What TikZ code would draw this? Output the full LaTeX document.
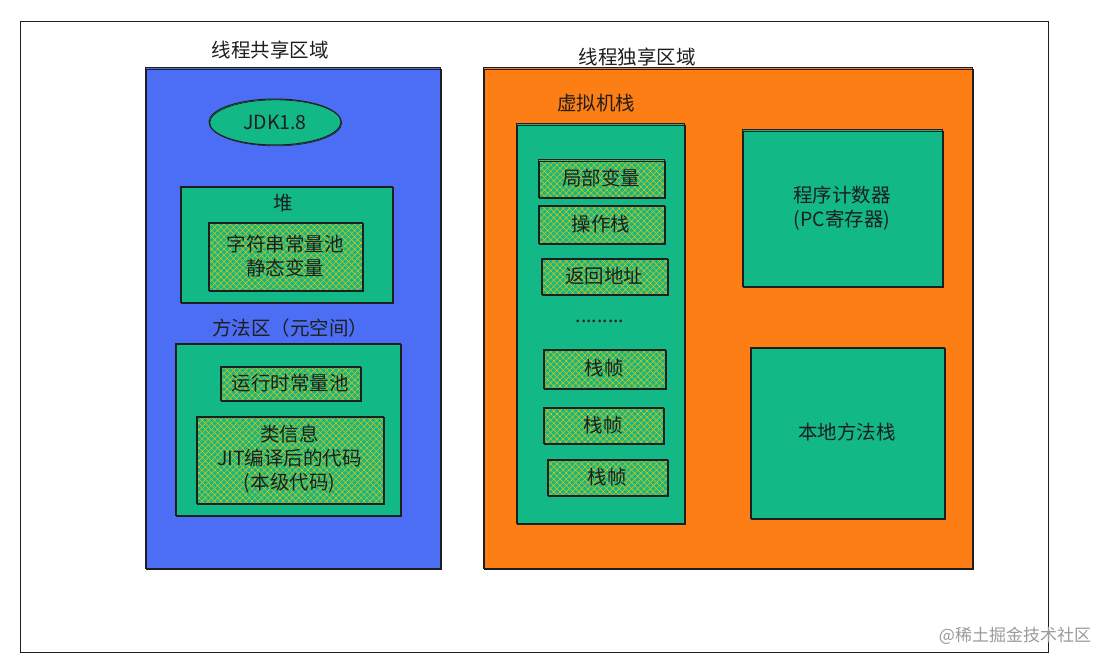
\documentclass[tikz,border=0pt]{standalone}
\usepackage{fontspec}
\setmainfont{Noto Sans CJK SC}
\usetikzlibrary{patterns.meta,shapes.geometric}
\definecolor{exblue}{HTML}{4C6EF5}
\definecolor{exorange}{HTML}{FD7E14}
\definecolor{exgreen}{HTML}{12B886}
\definecolor{exyellow}{HTML}{F5C000}
\definecolor{ink}{HTML}{1E1E1E}
\definecolor{wm}{HTML}{9A9A9A}
\begin{document}
\begin{tikzpicture}[x=1pt,y=-1pt,
  every node/.style={font=\fontsize{19.5}{24}\selectfont, text=ink, align=center, inner sep=0pt},
  sk/.style={draw=ink, line width=1pt, postaction={draw=ink, line width=0.6pt, transform canvas={shift={(0.8pt,-0.9pt)}}}},
  gbox/.style={sk, rectangle, fill=exgreen},
  hbox/.style={rectangle,
    preaction={fill=exgreen},
    preaction={pattern={Lines[angle=45,distance=4.4pt,line width=0.5pt]}, pattern color=exyellow},
    preaction={pattern={Lines[angle=-45,distance=4.4pt,line width=0.5pt]}, pattern color=exyellow},
    sk},
  lbl/.style={font=\fontsize{19.5}{24}\selectfont},
]
\useasboundingbox (0,0) rectangle (1114,666);
\fill[white] (0,0) rectangle (1114,666);

% outer frame
\node[rectangle, draw=ink, line width=1pt, fill=white, minimum width=1028, minimum height=630] (frame) at (534,337) {};

% shared region
\node[lbl] (sharedT) at (270,50) {线程共享区域};
\node[sk, rectangle, fill=exblue, minimum width=295, minimum height=500] (shared) at (292.5,318) {};
\node[sk, ellipse, fill=exgreen, minimum width=132, minimum height=46] (jdk) at (275,122) {JDK1.8};

\node[gbox, minimum width=212, minimum height=116] (heap) at (286,244) {};
\node[lbl] (heapT) at (283,203) {堆};
\node[hbox, minimum width=154, minimum height=68] (heapIn) at (285,256) {字符串常量池\\静态变量};

\node[lbl] (methT) at (290,328) {方法区（元空间）};
\node[gbox, minimum width=225, minimum height=172] (meth) at (287.5,429) {};
\node[hbox, minimum width=140, minimum height=34] (rtpool) at (290,383) {运行时常量池};
\node[hbox, minimum width=187, minimum height=87] (cls) at (289.5,459.5) {类信息\\JIT编译后的代码\\(本级代码)};

% private region
\node[lbl] (privT) at (637,57) {线程独享区域};
\node[sk, rectangle, fill=exorange, minimum width=489, minimum height=500] (priv) at (727.5,318) {};

\node[lbl] (vmT) at (596,103) {虚拟机栈};
\node[gbox, minimum width=168, minimum height=399] (vm) at (600,323.5) {};
\node[hbox, minimum width=126, minimum height=37] (lv) at (601,178.5) {局部变量};
\node[hbox, minimum width=126, minimum height=38] (ops) at (601,224) {操作栈};
\node[hbox, minimum width=126, minimum height=36] (ret) at (604,276) {返回地址};
\node (dots) at (600,321) {.........};
\node[hbox, minimum width=122, minimum height=39] (f1) at (604,368.5) {栈帧};
\node[hbox, minimum width=120, minimum height=36] (f2) at (603,425) {栈帧};
\node[hbox, minimum width=120, minimum height=36] (f3) at (607,477) {栈帧};

\node[gbox, minimum width=200, minimum height=156] (pc) at (842,208) {程序计数器\\(PC寄存器)};
\node[gbox, minimum width=194, minimum height=171] (native) at (847,432.5) {本地方法栈};

% watermark
\node[font=\fontsize{17}{20}\selectfont, text=wm] (wmk) at (1015,636) {@稀土掘金技术社区};
\end{tikzpicture}
\end{document}
